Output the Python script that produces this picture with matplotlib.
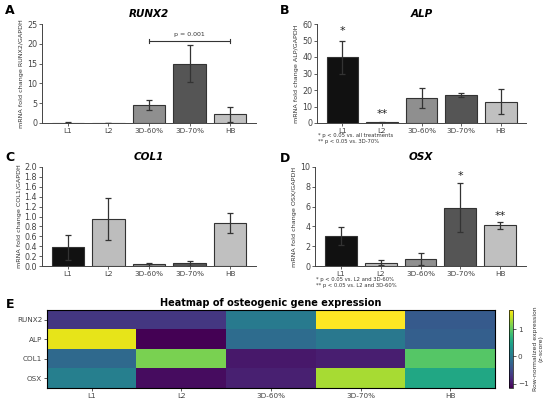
import numpy as np
import matplotlib
matplotlib.use("Agg")
import matplotlib.pyplot as plt

# Datos
groups = ["L1", "L2", "3D-60%", "3D-70%", "HB"]
bar_colors = ["#111111", "#bdbdbd", "#8f8f8f", "#555555", "#c0c0c0"]

runx2_mean = [0.1, 0.05, 4.5, 15.0, 2.2]
runx2_err = [0.1, 0.05, 1.2, 4.7, 1.9]

alp_mean = [40.0, 0.5, 15.0, 17.0, 13.0]
alp_err = [10.0, 0.2, 6.0, 1.2, 7.5]

col1_mean = [0.38, 0.95, 0.04, 0.06, 0.87]
col1_err = [0.25, 0.42, 0.03, 0.05, 0.20]

osx_mean = [3.0, 0.35, 0.7, 5.9, 4.1]
osx_err = [0.9, 0.25, 0.6, 2.5, 0.35]

genes = ["RUNX2", "ALP", "COL1", "OSX"]
zscores = [
    [-0.69, -0.70, 0.02, 1.71, -0.35],
    [1.60, -1.16, -0.15, -0.01, -0.29],
    [-0.18, 1.13, -0.97, -0.92, 0.95],
    [0.08, -1.06, -0.91, 1.33, 0.55],
]

W, H = 550, 405
fig = plt.figure(figsize=(W / 100, H / 100), dpi=100)


def px_axes(left, top, right, bottom):
    return fig.add_axes([left / W, 1 - bottom / H, (right - left) / W, (bottom - top) / H])


def bar_panel(ax, means, errs, title, ylabel, ymax, ystep, fmt="{:g}"):
    x = np.arange(len(groups))
    ax.bar(x, means, width=0.8, color=bar_colors, edgecolor="#333333", linewidth=0.8)
    ax.errorbar(x, means, yerr=errs, fmt="none", ecolor="#333333", elinewidth=0.9,
                capsize=2.2, capthick=0.9)
    ax.set_xticks(x)
    ax.set_xticklabels(groups, fontsize=5.2, color="#333333")
    ticks = np.arange(0, ymax + ystep / 2, ystep)
    ax.set_yticks(ticks)
    ax.set_yticklabels([fmt.format(t) for t in ticks], fontsize=5.8, color="#333333")
    ax.set_ylim(0, ymax)
    ax.set_ylabel(ylabel, fontsize=4.6, color="#333333", labelpad=2)
    ax.set_title(title, fontsize=7.5, fontweight="bold", fontstyle="italic", pad=5)
    for s in ["top", "right"]:
        ax.spines[s].set_visible(False)
    for s in ["left", "bottom"]:
        ax.spines[s].set_color("#444444")
        ax.spines[s].set_linewidth(0.7)
    ax.tick_params(length=2, width=0.6, pad=1.5, colors="#444444")


# A - RUNX2
axA = px_axes(42, 24, 256, 123)
bar_panel(axA, runx2_mean, runx2_err, "RUNX2", "mRNA fold change RUNX2/GAPDH", 25, 5)
axA.plot([2, 4], [20.7, 20.7], color="#333333", lw=0.8)
axA.plot([2, 2], [20.2, 21.2], color="#333333", lw=0.8)
axA.plot([4, 4], [20.2, 21.2], color="#333333", lw=0.8)
axA.text(3, 21.6, "p = 0.001", ha="center", va="bottom", fontsize=4.5, color="#333333")

# B - ALP
axB = px_axes(317, 24, 526, 123)
bar_panel(axB, alp_mean, alp_err, "ALP", "mRNA fold change ALP/GAPDH", 60, 10)
axB.text(0, 53, "*", ha="center", va="bottom", fontsize=8, color="#222222")
axB.text(1, 2.5, "**", ha="center", va="bottom", fontsize=8, color="#222222")
fig.text(318 / W, 1 - 136 / H, "* p < 0.05 vs. all treatments", fontsize=3.8,
         color="#333333", va="center")
fig.text(318 / W, 1 - 142 / H, "** p < 0.05 vs. 3D-70%", fontsize=3.8,
         color="#333333", va="center")

# C - COL1
axC = px_axes(42, 167, 256, 266)
bar_panel(axC, col1_mean, col1_err, "COL1", "mRNA fold change COL1/GAPDH", 2.0, 0.2, "{:.1f}")

# D - OSX
axD = px_axes(315, 167, 526, 266)
bar_panel(axD, osx_mean, osx_err, "OSX", "mRNA fold change OSX/GAPDH", 10, 2)
axD.text(3, 8.55, "*", ha="center", va="bottom", fontsize=8, color="#222222")
axD.text(4, 4.5, "**", ha="center", va="bottom", fontsize=8, color="#222222")
fig.text(316 / W, 1 - 279 / H, "* p < 0.05 vs. L2 and 3D-60%", fontsize=3.8,
         color="#333333", va="center")
fig.text(316 / W, 1 - 285 / H, "** p < 0.05 vs. L2 and 3D-60%", fontsize=3.8,
         color="#333333", va="center")

# E - heatmap
axE = px_axes(47, 310, 495, 388)
im = axE.imshow(np.array(zscores), cmap="viridis", aspect="auto")
axE.set_xticks(np.arange(len(groups)))
axE.set_xticklabels(groups, fontsize=5.2, color="#333333")
axE.set_yticks(np.arange(len(genes)))
axE.set_yticklabels(genes, fontsize=5.2, color="#333333")
axE.tick_params(length=2, width=0.6, pad=1.5, colors="#444444")
axE.set_title("Heatmap of osteogenic gene expression", fontsize=7, fontweight="bold", pad=3)

cax = px_axes(509, 310, 513, 388)
cb = fig.colorbar(im, cax=cax)
cb.set_ticks([-1, 0, 1])
cb.ax.tick_params(labelsize=5.2, length=2, width=0.6, pad=1.5, colors="#444444")
cb.outline.set_linewidth(0.5)
cb.set_label("Row-normalized expression\n(z-score)", fontsize=4.4, color="#333333", labelpad=3)

# letras de los paneles
for letter, (lx, ly) in zip("ABCDE", [(10, 10), (285, 10), (10, 157), (285, 158), (10, 305)]):
    fig.text(lx / W, 1 - ly / H, letter, fontsize=9, fontweight="bold", ha="center", va="center")

fig.savefig("out.png", dpi=100)
